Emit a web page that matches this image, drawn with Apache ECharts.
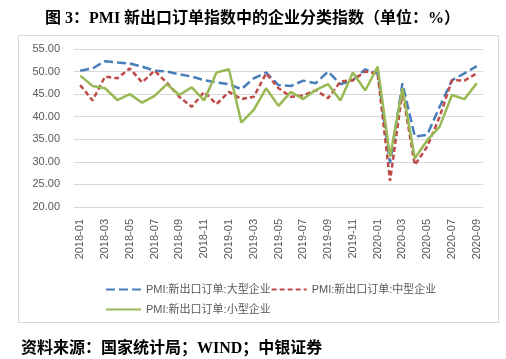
<!DOCTYPE html>
<html>
<head>
<meta charset="utf-8">
<script src="https://cdn.jsdelivr.net/npm/echarts@6/dist/echarts.min.js"></script>
<style>html,body{margin:0;padding:0;background:#fff}#c{width:506px;height:359px}</style>
</head>
<body>
<div id="c"></div>
<script>
const months = ["2018-01","2018-02","2018-03","2018-04","2018-05","2018-06","2018-07","2018-08","2018-09","2018-10","2018-11","2018-12",
"2019-01","2019-02","2019-03","2019-04","2019-05","2019-06","2019-07","2019-08","2019-09","2019-10","2019-11","2019-12",
"2020-01","2020-02","2020-03","2020-04","2020-05","2020-06","2020-07","2020-08","2020-09"];
const seriesNames = ["PMI:新出口订单:大型企业","PMI:新出口订单:中型企业","PMI:新出口订单:小型企业"];
const large = [50.2,50.7,52.3,52.0,51.8,51.1,50.2,50.0,49.4,48.9,48.1,47.6,47.2,46.1,48.5,49.8,47.0,46.8,48.0,47.4,50.0,47.2,48.1,50.5,49.6,29.7,47.4,35.6,36.0,42.2,48.1,49.6,51.2];
const medium = [47.0,43.6,48.9,48.5,50.7,47.6,50.2,47.5,44.4,42.2,45.5,42.8,45.5,43.9,44.4,49.6,46.3,44.4,44.7,45.9,44.1,47.8,48.1,50.0,49.6,25.8,45.5,29.3,33.4,40.0,48.1,48.0,49.6];
const small = [49.1,46.8,46.3,43.7,45.0,43.1,44.6,47.2,44.8,46.5,43.6,49.8,50.5,38.7,41.5,46.3,42.4,45.5,43.9,45.9,47.2,43.6,49.8,45.8,51.1,31.1,46.3,30.8,34.8,37.8,44.8,43.9,47.4];
const yTicks = {min: 20, max: 55, step: 5};
const titleText = "图 3：PMI 新出口订单指数中的企业分类指数（单位：%）";
const sourceText = "资料来源：国家统计局；WIND；中银证券";

const chart = echarts.init(document.getElementById('c'), null, {renderer: 'canvas'});
const labelFont = "'Liberation Sans', 'Noto Sans CJK SC', sans-serif";
const boldFont = "'Liberation Serif', 'Noto Sans CJK SC', serif";
const legendCommon = {left: 100, itemWidth: 35, itemHeight: 12, itemGap: 0,
  itemStyle: {opacity: 0},
  textStyle: {fontSize: 11, color: '#595959', fontFamily: labelFont}};
chart.setOption({
  animation: false,
  backgroundColor: '#fff',
  title: [
    {text: titleText, left: 40, top: 6, textStyle: {fontSize: 16, fontWeight: 'bold', fontFamily: boldFont, color: '#000'}},
    {text: sourceText, left: 16, top: 336, textStyle: {fontSize: 16, fontWeight: 'bold', fontFamily: boldFont, color: '#000'}}
  ],
  graphic: [
    {type: 'rect', shape: {x: 18.5, y: 35.5, width: 480, height: 287}, style: {fill: 'none', stroke: '#d9d9d9', lineWidth: 1}, silent: true}
  ],
  legend: [
    Object.assign({data: [seriesNames[0], seriesNames[1]], top: 279}, legendCommon),
    Object.assign({data: [seriesNames[2]], top: 299}, legendCommon)
  ],
  grid: {left: 74, right: 23, top: 49, bottom: 152},
  xAxis: {
    type: 'category', data: months, boundaryGap: true,
    axisLine: {lineStyle: {color: '#d9d9d9'}},
    axisTick: {interval: 1, length: 5, lineStyle: {color: '#d9d9d9'}},
    axisLabel: {interval: 1, rotate: 90, fontSize: 11, color: '#595959', fontFamily: labelFont, margin: 12}
  },
  yAxis: {
    type: 'value', min: yTicks.min, max: yTicks.max, interval: yTicks.step,
    axisLine: {show: false}, axisTick: {show: false},
    splitLine: {lineStyle: {color: '#d9d9d9'}},
    axisLabel: {fontSize: 11, color: '#595959', fontFamily: labelFont, margin: 14, formatter: v => v.toFixed(2)}
  },
  series: [
    {name: seriesNames[0], type: 'line', data: large, symbol: 'none', z: 3,
     lineStyle: {color: '#4A7EBB', width: 2.5, type: [9, 4]}, itemStyle: {color: '#4A7EBB'}},
    {name: seriesNames[1], type: 'line', data: medium, symbol: 'none', z: 4,
     lineStyle: {color: '#BE4B48', width: 2.5, type: [5, 3]}, itemStyle: {color: '#BE4B48'}},
    {name: seriesNames[2], type: 'line', data: small, symbol: 'none', z: 5,
     lineStyle: {color: '#98B954', width: 2.5}, itemStyle: {color: '#98B954'}}
  ]
});
</script>
</body>
</html>
